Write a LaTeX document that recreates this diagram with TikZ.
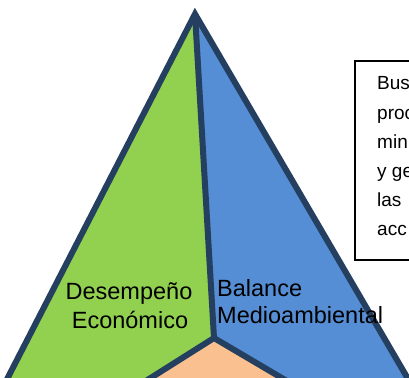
\documentclass[tikz,border=0pt]{standalone}
\usepackage{fontspec}
\setmainfont{Liberation Sans}
\definecolor{navy}{HTML}{243F60}
\definecolor{pgreen}{HTML}{92D050}
\definecolor{pblue}{HTML}{558ED5}
\definecolor{porange}{HTML}{FAC090}
\begin{document}
\begin{tikzpicture}[x=1pt,y=-1pt,
  outline/.style={draw=navy, line width=6pt, line join=miter, line cap=butt},
  lbl/.style={font=\fontsize{23.5}{28}\selectfont, inner sep=0pt},
  boxtxt/.style={font=\fontsize{19}{23}\selectfont, inner sep=0pt, anchor=base west}]
\useasboundingbox (0,0) rectangle (409,377);
\clip (0,0) rectangle (409,377);
\coordinate (A) at (195,14);
\coordinate (J) at (214,338);
\coordinate (BL) at (-14,420);
\coordinate (BR) at (432,420);
\coordinate (DL) at (84,420);
\coordinate (DR) at (353,420);
\fill[pgreen] (A) -- (BL) -- (DL) -- (J) -- cycle;
\fill[pblue] (A) -- (J) -- (DR) -- (BR) -- cycle;
\fill[porange] (J) -- (DL) -- (DR) -- cycle;
\draw[outline] (BL) -- (A) -- (BR);
\draw[outline] (A) -- (J);
\draw[outline] (DL) -- (J) -- (DR);
\node[lbl, anchor=base] (de1) at (129,299) {Desempeño};
\node[lbl, anchor=base] (de2) at (130,328) {Económico};
\node[lbl, anchor=base west] (ba1) at (217,296) {Balance};
\node[lbl, anchor=base west] (ba2) at (217,323) {Medioambiental};
\draw[black, line width=1.5pt, fill=white] (355,61) rectangle (430,260);
\node[boxtxt] (t1) at (377,90) {Bus};
\node[boxtxt] (t2) at (377,119) {proc};
\node[boxtxt] (t3) at (377,148) {min};
\node[boxtxt] (t4) at (377,177) {y ge};
\node[boxtxt] (t5) at (377,206) {las};
\node[boxtxt] (t6) at (377,235) {acc};
\end{tikzpicture}
\end{document}
